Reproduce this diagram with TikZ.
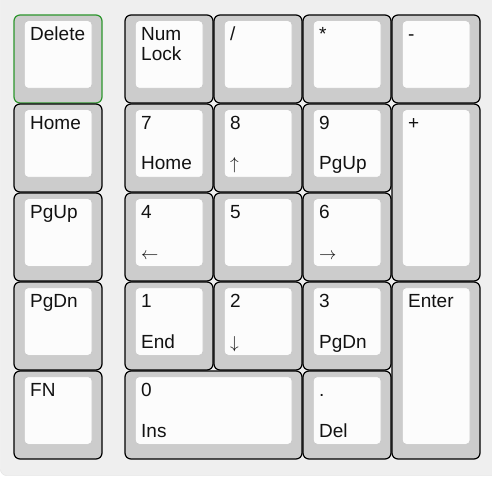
\documentclass[tikz,border=0pt]{standalone}
\usepackage{fontspec}
\setmainfont{Liberation Sans}

\definecolor{keygray}{HTML}{CCCCCC}
\definecolor{capwhite}{HTML}{FCFCFC}
\definecolor{padbg}{HTML}{EFEFEF}
\definecolor{selgreen}{RGB}{45,150,45}

\tikzset{
    keyframe/.style={fill=keygray, line width=1.2pt, rounded corners=6pt},
    keytop/.style={fill=capwhite, draw=black!22, line width=0.6pt, rounded corners=4pt},
    keylabel/.style={anchor=base west, inner sep=0pt, text=black!93,
        font=\fontsize{19}{20}\selectfont}
}

% #1 border colour, #2 name, #3 x, #4 y, #5 width, #6 height, #7 top label, #8 lower label
\newcommand{\keycap}[8][black]{
    \draw[keyframe, draw=#1] (#3,#4) rectangle ++(#5,#6);
    \draw[keytop] (#3+10.3,#4+5.7) rectangle (#3+#5-10,#4+#6-14.7);
    \node[keylabel] (#2a) at (#3+16,#4+25.5) {#7};
    \node[keylabel] (#2b) at (#3+16,#4+66) {#8};
}

\begin{document}
\begin{tikzpicture}[x=1pt, y=-1pt]
        \useasboundingbox (0,0) rectangle (492,478);
        \fill[white] (0,0) rectangle (492,478);

        % Nền bàn phím
        \draw[fill=padbg, draw=black!12, rounded corners=6pt] (0.5,-20) rectangle (520,475.5);

        % Cột trái
        \keycap[selgreen]{del}{14}{15}{88}{88}{Delete}{}
        \keycap{home}{14}{104}{88}{88}{Home}{}
        \keycap{pgup}{14}{193}{88}{88}{PgUp}{}
        \keycap{pgdn}{14}{282}{88}{88}{PgDn}{}
        \keycap{fn}{14}{371}{88}{88}{FN}{}

        % Hàng trên
        \keycap{numlock}{125}{15}{88}{88}{Num}{}
        \node[keylabel] (numlockc) at (141,60.7) {Lock};
        \keycap{slash}{214}{15}{88}{88}{/}{}
        \keycap{star}{303}{15}{88}{88}{*}{}
        \keycap{minus}{392}{15}{88}{88}{-}{}

        % Phím số
        \keycap{kseven}{125}{104}{88}{88}{7}{Home}
        \keycap{keight}{214}{104}{88}{88}{8}{$\uparrow$}
        \keycap{knine}{303}{104}{88}{88}{9}{PgUp}
        \keycap{kfour}{125}{193}{88}{88}{4}{$\leftarrow$}
        \keycap{kfive}{214}{193}{88}{88}{5}{}
        \keycap{ksix}{303}{193}{88}{88}{6}{$\rightarrow$}
        \keycap{kone}{125}{282}{88}{88}{1}{End}
        \keycap{ktwo}{214}{282}{88}{88}{2}{$\downarrow$}
        \keycap{kthree}{303}{282}{88}{88}{3}{PgDn}
        \keycap{kzero}{125}{371}{177}{88}{0}{Ins}
        \keycap{dot}{303}{371}{88}{88}{.}{Del}

        % Phím cao
        \keycap{plus}{392}{104}{88}{177}{+}{}
        \keycap{enter}{392}{282}{88}{177}{Enter}{}
    \end{tikzpicture}
\end{document}
